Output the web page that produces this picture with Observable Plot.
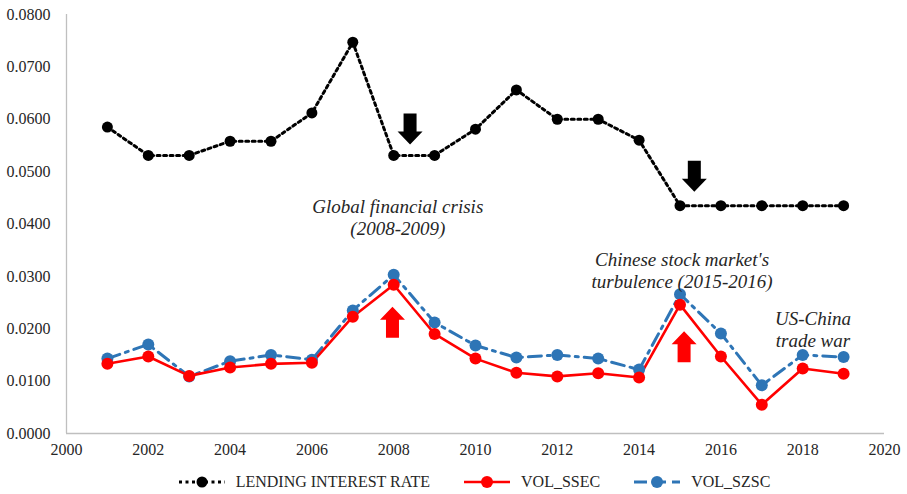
<!DOCTYPE html>
<html><head><meta charset="utf-8">
<script src="https://cdn.jsdelivr.net/npm/d3@7"></script>
<script src="https://cdn.jsdelivr.net/npm/@observablehq/plot@0.6"></script>
<style>
body{margin:0;width:907px;height:494px;overflow:hidden;background:#fff;font-family:'Liberation Serif';}
#legend{display:flex;justify-content:center;align-items:center;height:24px;font-size:16px;color:#262626;margin-left:40px;font-family:'Liberation Serif';}
#legend .item{display:flex;align-items:center;margin:0 16px;}
#legend svg{margin-right:9px;}
#chart svg text, #chart svg tspan, #legend span{font-family:'Liberation Serif' !important;}
</style></head>
<body>
<div id="chart">
<script>
const years = [2001,2002,2003,2004,2005,2006,2007,2008,2009,2010,2011,2012,2013,2014,2015,2016,2017,2018,2019];
const lendingRate = [0.0585,0.0531,0.0531,0.0558,0.0558,0.0612,0.0747,0.0531,0.0531,0.0581,0.0656,0.0600,0.0600,0.0560,0.0435,0.0435,0.0435,0.0435,0.0435];
const volSSEC = [0.0133,0.0147,0.0110,0.0126,0.0133,0.0135,0.0223,0.0284,0.0190,0.0143,0.0116,0.0109,0.0115,0.0107,0.0246,0.0147,0.0055,0.0124,0.0114];
const volSZSC = [0.0143,0.0170,0.0109,0.0138,0.0150,0.0141,0.0235,0.0303,0.0212,0.0168,0.0145,0.0150,0.0143,0.0122,0.0266,0.0191,0.0092,0.0150,0.0146];
const seriesNames = ["LENDING INTEREST RATE","VOL_SSEC","VOL_SZSC"];
const xTicks = [2000,2002,2004,2006,2008,2010,2012,2014,2016,2018,2020];
const yTicks = [0,0.01,0.02,0.03,0.04,0.05,0.06,0.07,0.08];
// annotations
const noteText = ["Global financial crisis\n(2008-2009)","Chinese stock market's\nturbulence (2015-2016)","US-China\ntrade war"];
const noteX = [2008.1, 2015.05, 2018.25];
const noteY = [0.0450, 0.0350, 0.0237];
const arrowX = [2008.4, 2015.35, 2007.97, 2015.1];
const arrowY = [0.0611, 0.0521, 0.0183, 0.0136];
const arrowDir = ["down","down","up","up"];
const arrowColor = ["#000000","#000000","#ff0000","#ff0000"];

const colors = {lend:"#000000", ssec:"#ff0000", szsc:"#2e75b6"};
const lendData = years.map((y,i)=>({year:y, v:lendingRate[i]}));
const ssecData = years.map((y,i)=>({year:y, v:volSSEC[i]}));
const szscData = years.map((y,i)=>({year:y, v:volSZSC[i]}));
const notes = noteText.map((t,i)=>({t, x:noteX[i], y:noteY[i]}));
const arrows = arrowX.map((x,i)=>({x, y:arrowY[i], r: arrowDir[i]==="down"?180:0, c:arrowColor[i]}));

const blockArrow = {
  draw(context, l, r) {
    const s = 6.5, hw = 12.5, h = 13;
    context.moveTo(-s, 0);
    context.lineTo(-s, -(l - h));
    context.lineTo(-hw, -(l - h));
    context.lineTo(0, -l);
    context.lineTo(hw, -(l - h));
    context.lineTo(s, -(l - h));
    context.lineTo(s, 0);
    context.closePath();
  }
};

const FONT = "Liberation Serif";
const plot = Plot.plot({
  width: 907, height: 470,
  marginTop: 14, marginBottom: 37, marginLeft: 66, marginRight: 23,
  style: {fontFamily: FONT, fontSize: "16px", color: "#262626", background: "#fff"},
  x: {domain: [2000, 2020], ticks: xTicks, tickFormat: "d", tickSize: 0, tickPadding: 10, label: null},
  y: {domain: [0, 0.08], ticks: yTicks, tickFormat: ".4f", tickSize: 0, tickPadding: 16, label: null},
  marks: [
    Plot.ruleX([2000], {stroke: "#bfbfbf", strokeWidth: 1.3}),
    Plot.ruleY([0], {stroke: "#bfbfbf", strokeWidth: 1.3}),
    Plot.line(lendData, {x: "year", y: "v", stroke: colors.lend, strokeWidth: 3, strokeDasharray: "3,3.5"}),
    Plot.dot(lendData, {x: "year", y: "v", r: 5.5, fill: colors.lend, stroke: "none"}),
    Plot.line(szscData, {x: "year", y: "v", stroke: colors.szsc, strokeWidth: 3, strokeDasharray: "13,6,3,6"}),
    Plot.line(ssecData, {x: "year", y: "v", stroke: colors.ssec, strokeWidth: 2.6}),
    Plot.dot(szscData, {x: "year", y: "v", r: 6, fill: colors.szsc, stroke: "none"}),
    Plot.dot(ssecData, {x: "year", y: "v", r: 6, fill: colors.ssec, stroke: "none"}),
    Plot.vector(arrows, {x: "x", y: "y", rotate: "r", length: 31, anchor: "start", shape: blockArrow, fill: "c", stroke: "none"}),
    Plot.text(notes, {x: "x", y: "y", text: "t", fontSize: 19, fontStyle: "italic", fontFamily: FONT, lineHeight: 1.15, lineAnchor: "top", fill: "#262626"})
  ]
});
document.write(plot.outerHTML);
</script>
</div>
<div id="legend">
<script>
(function(){
  const legendSpecs = [
    {name: seriesNames[0], color: colors.lend, dash: "3,3.5", w: 3, r: 5.5},
    {name: seriesNames[1], color: colors.ssec, dash: null, w: 2.6, r: 6},
    {name: seriesNames[2], color: colors.szsc, dash: "13,6", w: 3, r: 6}
  ];
  let html = "";
  for (const s of legendSpecs) {
    html += '<div class="item"><svg width="50" height="16">' +
      '<line x1="2" x2="48" y1="8" y2="8" stroke="' + s.color + '" stroke-width="' + s.w + '"' + (s.dash ? ' stroke-dasharray="' + s.dash + '"' : '') + '></line>' +
      '<circle cx="25" cy="8" r="' + s.r + '" fill="' + s.color + '"></circle></svg>' +
      '<span>' + s.name + '</span></div>';
  }
  document.write(html);
})();
</script>
</div>
</body></html>
